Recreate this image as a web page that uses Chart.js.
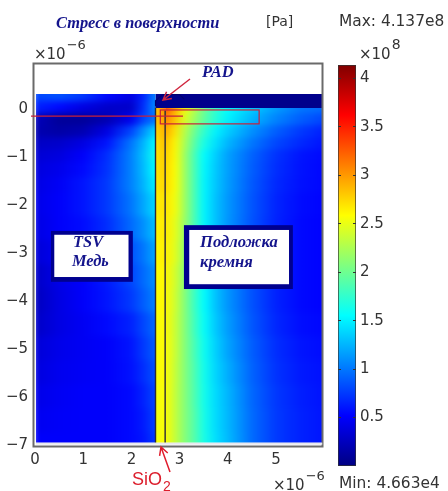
<!DOCTYPE html>
<html><head><meta charset="utf-8">
<style>
html,body{margin:0;padding:0;background:#fff;width:448px;height:491px;overflow:hidden}
canvas{position:absolute;top:0;filter:blur(0.45px)}
</style>
<script src="https://cdn.jsdelivr.net/npm/chart.js@4"></script>
</head><body>
<div style="position:absolute;left:0;top:0;width:330px;height:491px"><canvas id="main"></canvas></div>
<div style="position:absolute;left:330px;top:0;width:118px;height:491px"><canvas id="bar"></canvas></div>
<script>
// ---------- tick labels ----------
const xTickValues=[0,1,2,3,4,5];
const yTickValues=[0,-1,-2,-3,-4,-5,-6,-7];
const colorbarTicks=[0.5,1,1.5,2,2.5,3,3.5,4];
const colorbarMin=0.0005, colorbarMax=4.137;

// ---------- stress (x10^8 Pa) ----------
const copperX=[0,0.5,1,1.5,2,2.25,2.5];
const copperRowY=[0.3,0,-0.25,-0.5,-0.75,-1,-1.25,-1.5,-2,-2.5,-3,-3.5,-4,-4.5,-5,-5.5,-6,-6.5,-7];
const copperValues=[
[.80,.85,.75,.55,.40,.65,1.05],
[.65,.55,.40,.30,.30,.70,1.10],
[.25,.10,.10,.20,.45,.80,1.00],
[.20,.15,.20,.40,.80,1.10,1.40],
[.28,.30,.40,.60,1.00,1.25,1.55],
[.34,.38,.50,.70,1.05,1.30,1.60],
[.38,.44,.55,.72,1.05,1.28,1.55],
[.40,.48,.60,.75,1.05,1.25,1.50],
[.42,.50,.60,.75,1.00,1.20,1.40],
[.40,.50,.56,.70,.95,1.10,1.30],
[.35,.46,.52,.65,.85,1.00,1.20],
[.28,.42,.50,.62,.80,.95,1.10],
[.25,.40,.50,.60,.75,.90,1.05],
[.28,.40,.47,.55,.65,.80,.95],
[.35,.43,.47,.50,.60,.75,.90],
[.38,.45,.48,.50,.58,.70,.85],
[.42,.47,.50,.50,.55,.65,.80],
[.46,.49,.50,.50,.55,.62,.78],
[.50,.50,.50,.50,.55,.60,.75]];
const oxideX=[2.5,2.7];
const oxideRowY=[0,-0.25,-0.5,-0.75,-1,-1.25,-1.5,-2,-2.5,-3,-3.5,-4,-4.5,-5,-5.5,-6,-6.5,-7];
const oxideValues=[
[2.75,3.10],[2.80,3.00],[2.75,2.90],[2.70,2.85],[2.70,2.80],[2.69,2.78],[2.68,2.75],[2.65,2.70],[2.62,2.68],
[2.60,2.65],[2.58,2.62],[2.58,2.62],[2.55,2.60],[2.55,2.60],[2.55,2.60],[2.53,2.58],[2.52,2.58],[2.52,2.58]];
const siliconX=[2.7,2.9,3.1,3.3,3.5,3.75,4,4.5,5,5.5,5.96];
const siliconRowY=[0,-0.25,-0.5,-0.75,-1,-1.25,-1.5,-2,-2.5,-3,-3.5,-4,-4.5,-5,-5.5,-6,-6.5,-7];
const siliconValues=[
[3.30,2.95,2.55,2.30,2.00,1.75,1.55,1.35,1.15,1.00,.95],
[3.10,2.85,2.45,2.20,1.95,1.70,1.50,1.25,1.05,.90,.80],
[2.95,2.70,2.30,2.00,1.75,1.50,1.35,1.10,.90,.75,.65],
[2.85,2.62,2.25,1.92,1.65,1.42,1.25,1.00,.80,.68,.60],
[2.80,2.60,2.20,1.85,1.55,1.35,1.17,.92,.72,.60,.55],
[2.77,2.59,2.20,1.85,1.53,1.33,1.16,.90,.70,.59,.54],
[2.75,2.58,2.20,1.85,1.52,1.32,1.15,.88,.68,.58,.54],
[2.70,2.55,2.20,1.85,1.52,1.30,1.13,.86,.66,.56,.53],
[2.68,2.50,2.18,1.85,1.52,1.30,1.12,.85,.65,.55,.52],
[2.65,2.48,2.15,1.83,1.53,1.30,1.12,.85,.65,.55,.52],
[2.63,2.42,2.12,1.82,1.54,1.30,1.12,.85,.65,.55,.52],
[2.62,2.40,2.10,1.80,1.55,1.30,1.12,.85,.65,.55,.52],
[2.62,2.38,2.10,1.82,1.57,1.33,1.15,.87,.67,.57,.54],
[2.60,2.38,2.10,1.85,1.60,1.36,1.18,.90,.70,.60,.56],
[2.60,2.36,2.10,1.87,1.62,1.38,1.22,.92,.72,.62,.58],
[2.60,2.35,2.10,1.88,1.63,1.40,1.25,.94,.74,.64,.59],
[2.60,2.35,2.10,1.90,1.64,1.41,1.26,.95,.75,.65,.60],
[2.60,2.35,2.10,1.90,1.65,1.42,1.27,.95,.75,.65,.60]];
const padX=[2.5,5.96];
const padRowY=[0.17];
const padValues=[[.04,.04]];

// ---------- texts ----------
const titleText="Стресс в поверхности";
const unitText="[Pa]";
const maxText="Max: 4.137e8";
const minText="Min: 4.663e4";
const padText="PAD";
const tsvLines=["TSV","Медь"];
const subLines=["Подложка","кремня"];

// ---------- colour map ----------
const jetAt=[0,.125,.375,.625,.875,1];
const jetRGB=[[0,0,130],[0,0,255],[0,255,255],[255,255,0],[255,0,0],[128,0,0]];
function jet(v){
  const t=Math.max(0,Math.min(1,v/colorbarMax));
  for(let i=1;i<jetAt.length;i++){
    if(t<=jetAt[i]){
      const f=(t-jetAt[i-1])/(jetAt[i]-jetAt[i-1]),a=jetRGB[i-1],b=jetRGB[i];
      return `rgb(${a.map((c,k)=>Math.round(c+(b[k]-c)*f)).join(',')})`;
    }
  }
  return 'rgb(128,0,0)';
}

// ---------- heat rows as floating horizontal bars with a gradient fill ----------
const OVER=0.3;
function rowDataset(rows,stops,values,thickness,filterFn,region){
  const idx=rows.map((y,i)=>i).filter(filterFn);
  const a=stops[0],b=stops[stops.length-1];
  return {
    type:'bar',
    data:idx.map(i=>({y:rows[i],x:[a-OVER,b+OVER]})),
    barThickness:thickness,
    grouped:false,
    borderWidth:0,
    clip:{left:0,top:0,right:7,bottom:6},
    region,
    backgroundColor(ctx){
      if(ctx.dataIndex===undefined||!ctx.chart.chartArea) return '#00f';
      const s=ctx.chart.scales.x;
      const p0=s.getPixelForValue(a),p1=s.getPixelForValue(b);
      const g=ctx.chart.ctx.createLinearGradient(p0,0,p1,0);
      const vals=values[idx[ctx.dataIndex]];
      stops.forEach((sx,k)=>g.addColorStop((sx-a)/(b-a),jet(vals[k])));
      return g;
    }
  };
}
const upper=(rows)=>(i=>rows[i]>=-1.25), lower=(rows)=>(i=>rows[i]<-1.25);
const copperRegion={x:[0.02,2.5],y:[-6.95,0.31],blur:3};
const oxideRegion={x:[2.5,2.7],y:[-6.95,0.02],blur:3};
const siliconRegion={x:[2.7,5.96],y:[-6.95,0.02],blur:3};
const padRegion={x:[2.5,5.96],y:[0.02,0.31],blur:0};
// Chart.js paints the last dataset first, so each material's first dataset closes it
const heatDatasets=[
  rowDataset(copperRowY,copperX,copperValues,15,upper(copperRowY),copperRegion),
  rowDataset(copperRowY,copperX,copperValues,25,lower(copperRowY)),
  rowDataset(oxideRowY,oxideX,oxideValues,15,upper(oxideRowY),oxideRegion),
  rowDataset(oxideRowY,oxideX,oxideValues,25,lower(oxideRowY)),
  rowDataset(siliconRowY,siliconX,siliconValues,15,upper(siliconRowY),siliconRegion),
  rowDataset(siliconRowY,siliconX,siliconValues,25,lower(siliconRowY)),
  rowDataset(padRowY,padX,padValues,40,()=>true,padRegion)
];

// each material is softened on its own so the sharp material edges stay sharp
let layer=null;
const regionSoften={
  id:'regionSoften',
  beforeDatasetsDraw(chart){
    layer=document.createElement('canvas');
    layer.width=chart.canvas.width;layer.height=chart.canvas.height;
  },
  afterDatasetDraw(chart,args){
    const r=chart.data.datasets[args.index].region;
    if(!r) return;
    const sx=chart.scales.x,sy=chart.scales.y,l=layer.getContext('2d');
    const x0=sx.getPixelForValue(r.x[0]),x1=sx.getPixelForValue(r.x[1]);
    const y1=sy.getPixelForValue(r.y[0]),y0=sy.getPixelForValue(r.y[1]);
    l.save();l.beginPath();l.rect(x0,y0,x1-x0,y1-y0);l.clip();
    if(r.blur) l.filter=`blur(${r.blur}px)`;
    l.drawImage(chart.canvas,0,0);
    l.restore();
  },
  afterDatasetsDraw(chart){
    const A=chart.chartArea,c=chart.ctx;
    c.clearRect(A.left,A.top,chart.width-A.left,A.bottom+6-A.top);
    c.drawImage(layer,0,0);
  }
};

function supText(c,x,y,base,sup,size,color,supSize){
  c.fillStyle=color;c.textAlign='left';c.textBaseline='middle';
  c.font=`${size}px "DejaVu Sans"`;
  c.fillText(base,x,y);
  const w=c.measureText(base).width;
  c.font=`${supSize}px "DejaVu Sans"`;
  c.fillText(sup,x+w+1,y-9.5);
}
function arrow(c,x0,y0,x1,y1,col,head){
  const a=Math.atan2(y1-y0,x1-x0);
  c.strokeStyle=col;c.lineWidth=1.5;
  c.beginPath();c.moveTo(x0,y0);c.lineTo(x1,y1);
  c.moveTo(x1-head*Math.cos(a-0.5),y1-head*Math.sin(a-0.5));c.lineTo(x1,y1);
  c.lineTo(x1-head*Math.cos(a+0.5),y1-head*Math.sin(a+0.5));c.stroke();
}
const overlay={
  id:'overlay',
  afterDraw(chart){
    const c=chart.ctx,X=v=>chart.scales.x.getPixelForValue(v),Y=v=>chart.scales.y.getPixelForValue(v);
    const A=chart.chartArea;
    c.save();
    c.strokeStyle='#2a2a3a';c.lineWidth=1.4;
    c.beginPath();
    c.moveTo(X(2.5),Y(0.03));c.lineTo(X(2.5),Y(-6.95));
    c.moveTo(X(2.7),Y(-0.03));c.lineTo(X(2.7),Y(-6.95));
    c.stroke();
    c.strokeStyle='#000070';c.lineWidth=1.2;
    c.beginPath();c.moveTo(X(2.5),Y(0.05));c.lineTo(X(2.5),Y(0.17));c.lineTo(X(2.65),Y(0.3));c.lineTo(X(3.0),Y(0.3));c.lineTo(X(3.1),Y(0.2));c.stroke();
    c.strokeStyle='#6a6a6a';c.lineWidth=2;
    c.strokeRect(A.left+0.5,A.top+0.5,A.right-A.left-1,A.bottom-A.top);
    c.fillStyle='#e8e8ee';c.fillRect(X(0.02),Y(-6.95),X(5.96)-X(0.02),2);
    c.fillStyle='#00008f';
    c.fillRect(X(0.33),Y(-2.54),X(2.03)-X(0.33),Y(-3.6)-Y(-2.54));
    c.fillRect(X(3.09),Y(-2.42),X(5.35)-X(3.09),Y(-3.75)-Y(-2.42));
    c.fillStyle='#fff';
    c.fillRect(X(0.4),Y(-2.62),X(1.94)-X(0.4),Y(-3.5)-Y(-2.62));
    c.fillRect(X(3.2),Y(-2.52),X(5.27)-X(3.2),Y(-3.65)-Y(-2.52));
    c.strokeStyle='#c8203a';c.lineWidth=1.2;
    c.beginPath();c.moveTo(31,Y(-0.15));c.lineTo(X(3.07),Y(-0.15));c.stroke();
    c.strokeRect(X(2.6),Y(-0.02),X(4.65)-X(2.6),Y(-0.31)-Y(-0.02));
    arrow(c,190,79,163,100,'#d02840',9);
    arrow(c,170,472,161,447,'#e01c2c',9);
    c.fillStyle='#14148c';c.textBaseline='middle';c.textAlign='left';
    c.font='italic bold 16.4px "Liberation Serif"';
    c.fillText(titleText,56,24);
    c.fillText(padText,202,73);
    c.fillText(tsvLines[0],73,243);c.fillText(tsvLines[1],72,262);
    c.font='italic bold 16.6px "Liberation Serif"';
    c.fillText(subLines[0],200,243);c.fillText(subLines[1],200,263);
    c.fillStyle='#333';c.font='14px "DejaVu Sans"';
    c.fillText(unitText,266,22);
    supText(c,34,55,'×10','−6',15,'#333',13);
    supText(c,273,486,'×10','−6',15,'#333',13);
    c.fillStyle='#dc1e2c';c.font='18px "Liberation Sans"';
    c.fillText('SiO',132,480);
    c.font='14px "Liberation Sans"';c.fillText('2',163,487);
    c.restore();
  }
};

new Chart(document.getElementById('main'),{
  data:{datasets:heatDatasets},
  plugins:[regionSoften,overlay],
  options:{
    indexAxis:'y',responsive:true,maintainAspectRatio:false,animation:false,
    layout:{padding:{top:63,right:7,left:0,bottom:0}},
    plugins:{legend:{display:false},tooltip:{enabled:false}},
    scales:{
      x:{type:'linear',min:-0.0415,max:5.975,position:'bottom',
        grid:{display:false,drawTicks:false},border:{display:false},
        afterBuildTicks(a){a.ticks=xTickValues.map(value=>({value}));},
        afterFit(a){a.height=45;},
        ticks:{autoSkip:false,maxRotation:0,padding:5,color:'#333',font:{family:'DejaVu Sans',size:15},callback:v=>String(v)}},
      y:{type:'linear',min:-7.02,max:0.958,offset:false,
        grid:{display:false,drawTicks:false,offset:false},border:{display:false},
        afterBuildTicks(a){a.ticks=yTickValues.map(value=>({value}));},
        afterFit(a){a.width=33;},
        ticks:{autoSkip:false,padding:5,color:'#333',font:{family:'DejaVu Sans',size:15},callback:v=>v<0?'−'+Math.abs(v):String(v)}}
    }
  }
});

const barOverlay={
  id:'barOverlay',
  afterDraw(chart){
    const c=chart.ctx;
    c.save();
    c.fillStyle='#333';c.textBaseline='middle';c.textAlign='left';c.font='15.4px "DejaVu Sans"';
    c.fillText(maxText,9,22);
    c.fillText(minText,9,484);
    supText(c,29,55,'×10','8',15,'#333',14);
    c.restore();
  }
};
new Chart(document.getElementById('bar'),{
  type:'bar',
  data:{labels:['stress'],datasets:[{
    data:[[colorbarMin,colorbarMax]],
    categoryPercentage:1,barPercentage:1,borderWidth:1,borderColor:'#333',borderSkipped:false,
    backgroundColor(ctx){
      if(!ctx.chart.chartArea) return '#00f';
      const s=ctx.chart.scales.y;
      const g=ctx.chart.ctx.createLinearGradient(0,s.getPixelForValue(colorbarMin),0,s.getPixelForValue(colorbarMax));
      jetAt.forEach((p,i)=>g.addColorStop(p,`rgb(${jetRGB[i].join(',')})`));
      return g;
    }
  }]},
  plugins:[barOverlay],
  options:{
    responsive:true,maintainAspectRatio:false,animation:false,
    layout:{padding:{top:65,right:0,left:8,bottom:25}},
    plugins:{legend:{display:false},tooltip:{enabled:false}},
    scales:{
      x:{display:false},
      y:{position:'right',min:colorbarMin,max:colorbarMax,
        grid:{display:true,z:1,drawTicks:false,color:'#333',lineWidth:1},
        border:{display:false,dash:[3,12,3,0]},
        afterBuildTicks(a){a.ticks=colorbarTicks.map(value=>({value}));},
        afterFit(a){a.width=118-8-18;},
        ticks:{autoSkip:false,padding:4,color:'#333',font:{family:'DejaVu Sans',size:15},callback:v=>String(v)}}
    }
  }
});
</script>
</body></html>
